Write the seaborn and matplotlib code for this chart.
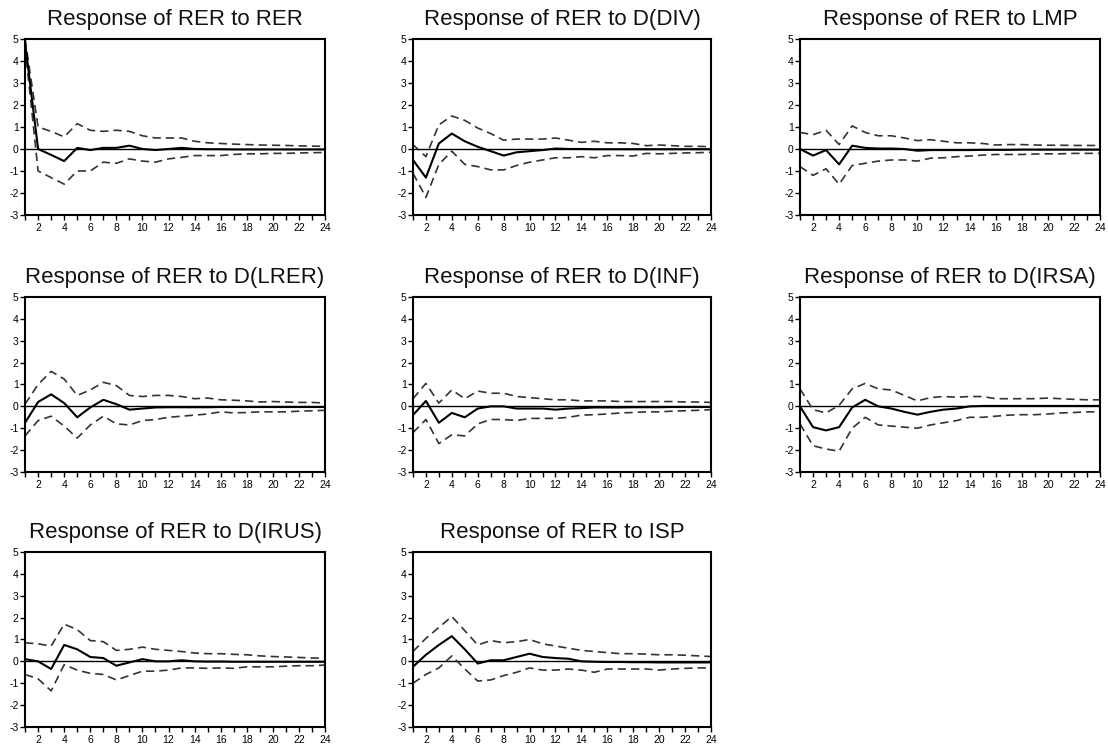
import numpy as np
import pandas as pd
import matplotlib
matplotlib.use("Agg")
import matplotlib.pyplot as plt
import seaborn as sns

# Impulse responses of RER (Cholesky, +/- 2 S.E. bands), periods 1..24
periods = list(range(1, 25))

titles = [
    "Response of RER to RER",
    "Response of RER to D(DIV)",
    "Response of RER to LMP",
    "Response of RER to D(LRER)",
    "Response of RER to D(INF)",
    "Response of RER to D(IRSA)",
    "Response of RER to D(IRUS)",
    "Response of RER to ISP",
]

rer_resp = [4.85, 0.0, -0.27, -0.55, 0.05, -0.05, 0.05, 0.05, 0.15, 0.0, -0.05, 0.0,
            0.05, 0.0, -0.01, -0.01, -0.02, -0.02, -0.02, -0.02, -0.02, -0.02, -0.02, -0.02]
rer_up = [5.0, 1.0, 0.8, 0.55, 1.15, 0.85, 0.8, 0.85, 0.8, 0.6, 0.5, 0.5,
          0.5, 0.35, 0.28, 0.25, 0.22, 0.2, 0.18, 0.17, 0.16, 0.14, 0.13, 0.12]
rer_lo = [4.65, -1.0, -1.3, -1.6, -1.0, -1.0, -0.6, -0.65, -0.45, -0.55, -0.6, -0.45,
          -0.38, -0.3, -0.3, -0.3, -0.25, -0.22, -0.22, -0.2, -0.2, -0.18, -0.17, -0.16]

div_resp = [-0.5, -1.3, 0.25, 0.7, 0.35, 0.1, -0.1, -0.3, -0.15, -0.1, -0.05, 0.02,
            0.0, 0.0, -0.01, -0.01, -0.01, -0.01, -0.01, -0.01, -0.01, -0.01, -0.01, -0.01]
div_up = [0.2, -0.35, 1.1, 1.5, 1.3, 0.95, 0.7, 0.4, 0.45, 0.45, 0.45, 0.5,
          0.4, 0.3, 0.35, 0.28, 0.28, 0.25, 0.15, 0.18, 0.15, 0.12, 0.12, 0.1]
div_lo = [-1.1, -2.2, -0.7, -0.1, -0.7, -0.8, -0.95, -0.95, -0.75, -0.6, -0.5, -0.4,
          -0.4, -0.35, -0.4, -0.3, -0.3, -0.32, -0.2, -0.22, -0.2, -0.18, -0.17, -0.15]

lmp_resp = [0.0, -0.3, -0.05, -0.7, 0.15, 0.05, 0.02, 0.02, 0.0, -0.08, -0.05, -0.05,
            -0.05, -0.05, -0.04, -0.04, -0.04, -0.03, -0.03, -0.03, -0.03, -0.03, -0.03, -0.03]
lmp_up = [0.75, 0.65, 0.85, 0.2, 1.05, 0.75, 0.6, 0.6, 0.5, 0.38, 0.42, 0.35,
          0.28, 0.28, 0.25, 0.18, 0.2, 0.2, 0.18, 0.17, 0.17, 0.16, 0.16, 0.16]
lmp_lo = [-0.8, -1.2, -0.9, -1.6, -0.75, -0.65, -0.55, -0.5, -0.5, -0.55, -0.42, -0.4,
          -0.35, -0.32, -0.28, -0.25, -0.25, -0.25, -0.23, -0.22, -0.22, -0.2, -0.2, -0.2]

lrer_resp = [-0.75, 0.2, 0.55, 0.15, -0.5, -0.05, 0.3, 0.1, -0.15, -0.1, -0.05, -0.04,
             -0.04, -0.04, -0.04, -0.03, -0.03, -0.03, -0.03, -0.03, -0.03, -0.03, -0.03, -0.03]
lrer_up = [0.1, 1.0, 1.6, 1.25, 0.5, 0.75, 1.1, 0.95, 0.5, 0.45, 0.5, 0.5,
           0.45, 0.35, 0.38, 0.3, 0.28, 0.25, 0.2, 0.22, 0.2, 0.18, 0.18, 0.15]
lrer_lo = [-1.35, -0.65, -0.45, -0.9, -1.45, -0.85, -0.45, -0.8, -0.85, -0.65, -0.6, -0.5,
           -0.45, -0.4, -0.35, -0.25, -0.3, -0.28, -0.25, -0.25, -0.25, -0.22, -0.2, -0.18]

inf_resp = [-0.4, 0.25, -0.75, -0.3, -0.5, -0.1, 0.0, 0.0, -0.1, -0.1, -0.1, -0.15,
            -0.1, -0.08, -0.05, -0.05, -0.05, -0.04, -0.04, -0.04, -0.03, -0.03, -0.03, -0.03]
inf_up = [0.35, 1.05, 0.15, 0.75, 0.35, 0.7, 0.6, 0.6, 0.45, 0.4, 0.35, 0.3,
          0.3, 0.25, 0.25, 0.25, 0.22, 0.22, 0.22, 0.22, 0.22, 0.2, 0.2, 0.18]
inf_lo = [-1.2, -0.6, -1.7, -1.3, -1.35, -0.8, -0.6, -0.6, -0.65, -0.55, -0.55, -0.55,
          -0.5, -0.4, -0.38, -0.35, -0.3, -0.28, -0.25, -0.25, -0.22, -0.2, -0.18, -0.15]

irsa_resp = [0.0, -0.95, -1.1, -0.95, -0.05, 0.3, 0.0, -0.1, -0.25, -0.38, -0.25, -0.15,
             -0.1, 0.0, 0.02, 0.02, 0.02, 0.02, 0.02, 0.02, 0.02, 0.02, 0.02, 0.02]
irsa_up = [0.8, -0.15, -0.3, 0.05, 0.8, 1.05, 0.8, 0.75, 0.5, 0.25, 0.4, 0.45,
           0.42, 0.45, 0.45, 0.35, 0.35, 0.35, 0.35, 0.38, 0.35, 0.32, 0.3, 0.3]
irsa_lo = [-0.8, -1.8, -1.95, -2.05, -1.0, -0.5, -0.85, -0.9, -0.95, -1.0, -0.85, -0.75,
           -0.65, -0.5, -0.5, -0.45, -0.4, -0.38, -0.38, -0.35, -0.3, -0.28, -0.25, -0.25]

irus_resp = [0.1, 0.0, -0.35, 0.75, 0.55, 0.2, 0.15, -0.2, -0.05, 0.1, 0.0, 0.0,
             0.05, 0.0, -0.01, -0.01, -0.02, -0.02, -0.02, -0.02, -0.02, -0.02, -0.02, -0.02]
irus_up = [0.85, 0.8, 0.7, 1.7, 1.45, 0.95, 0.9, 0.5, 0.55, 0.65, 0.55, 0.5,
           0.45, 0.38, 0.35, 0.35, 0.32, 0.3, 0.25, 0.22, 0.2, 0.18, 0.15, 0.15]
irus_lo = [-0.6, -0.8, -1.35, -0.15, -0.4, -0.55, -0.6, -0.85, -0.65, -0.45, -0.45, -0.4,
           -0.3, -0.3, -0.32, -0.3, -0.32, -0.25, -0.25, -0.25, -0.22, -0.2, -0.2, -0.17]

isp_resp = [-0.25, 0.3, 0.75, 1.15, 0.55, -0.1, 0.05, 0.05, 0.2, 0.35, 0.2, 0.15,
            0.12, 0.0, -0.02, -0.03, -0.03, -0.04, -0.04, -0.05, -0.05, -0.05, -0.05, -0.05]
isp_up = [0.45, 1.05, 1.55, 2.05, 1.4, 0.75, 0.95, 0.85, 0.9, 1.0, 0.8, 0.7,
          0.6, 0.5, 0.45, 0.4, 0.35, 0.35, 0.33, 0.3, 0.3, 0.28, 0.25, 0.22]
isp_lo = [-1.0, -0.6, -0.3, 0.25, -0.35, -0.9, -0.85, -0.65, -0.5, -0.3, -0.4, -0.4,
          -0.35, -0.4, -0.5, -0.35, -0.35, -0.35, -0.35, -0.4, -0.35, -0.32, -0.3, -0.3]

responses = [rer_resp, div_resp, lmp_resp, lrer_resp, inf_resp, irsa_resp, irus_resp, isp_resp]
uppers = [rer_up, div_up, lmp_up, lrer_up, inf_up, irsa_up, irus_up, isp_up]
lowers = [rer_lo, div_lo, lmp_lo, lrer_lo, inf_lo, irsa_lo, irus_lo, isp_lo]

y_ticks = list(range(-3, 6))
x_labels = list(range(2, 25, 2))

sns.set_style("white")
plt.rcParams["font.family"] = ["Liberation Sans", "DejaVu Sans"]

fig = plt.figure(figsize=(11.08, 7.46), dpi=100)
fig.patch.set_facecolor("white")

# panel boxes in figure fractions: [left, bottom, width, height]
col_left = [0.0226, 0.3727, 0.722]
col_width = [0.2708, 0.269, 0.2708]
row_bottom = [0.7118, 0.3673, 0.0255]
row_height = [0.236, 0.2346, 0.2346]

for i, title in enumerate(titles):
    r, c = divmod(i, 3)
    ax = fig.add_axes([col_left[c], row_bottom[r], col_width[c], row_height[r]])
    df = pd.DataFrame({
        "period": periods * 3,
        "value": responses[i] + uppers[i] + lowers[i],
        "series": ["resp"] * 24 + ["up"] * 24 + ["lo"] * 24,
    })
    ax.axhline(0, color="black", lw=1.0, zorder=1)
    sns.lineplot(data=df[df.series == "up"], x="period", y="value", ax=ax,
                 color="#333333", lw=1.2, linestyle=(0, (5, 3)), zorder=2)
    sns.lineplot(data=df[df.series == "lo"], x="period", y="value", ax=ax,
                 color="#333333", lw=1.2, linestyle=(0, (5, 3)), zorder=2)
    sns.lineplot(data=df[df.series == "resp"], x="period", y="value", ax=ax,
                 color="black", lw=1.5, zorder=3)
    ax.set_xlim(1, 24)
    ax.set_ylim(-3, 5)
    ax.set_yticks(y_ticks)
    ax.set_yticklabels([str(v) for v in y_ticks], fontsize=7.5)
    ax.set_xticks(x_labels)
    ax.set_xticklabels([str(v) for v in x_labels], fontsize=7.5)
    ax.set_xticks(periods, minor=True)
    ax.tick_params(axis="both", which="both", direction="out", length=3.5,
                   width=1.0, color="black", labelcolor="black")
    ax.tick_params(axis="x", which="both", bottom=True, pad=2.5)
    ax.tick_params(axis="y", which="both", left=True, pad=1)
    ax.set_xlabel("")
    ax.set_ylabel("")
    for s in ax.spines.values():
        s.set_visible(True)
        s.set_color("black")
        s.set_linewidth(1.5)
    ax.set_title(title, fontsize=16, pad=10, color="#111111")

fig.savefig("out.png", dpi=100, facecolor="white")
